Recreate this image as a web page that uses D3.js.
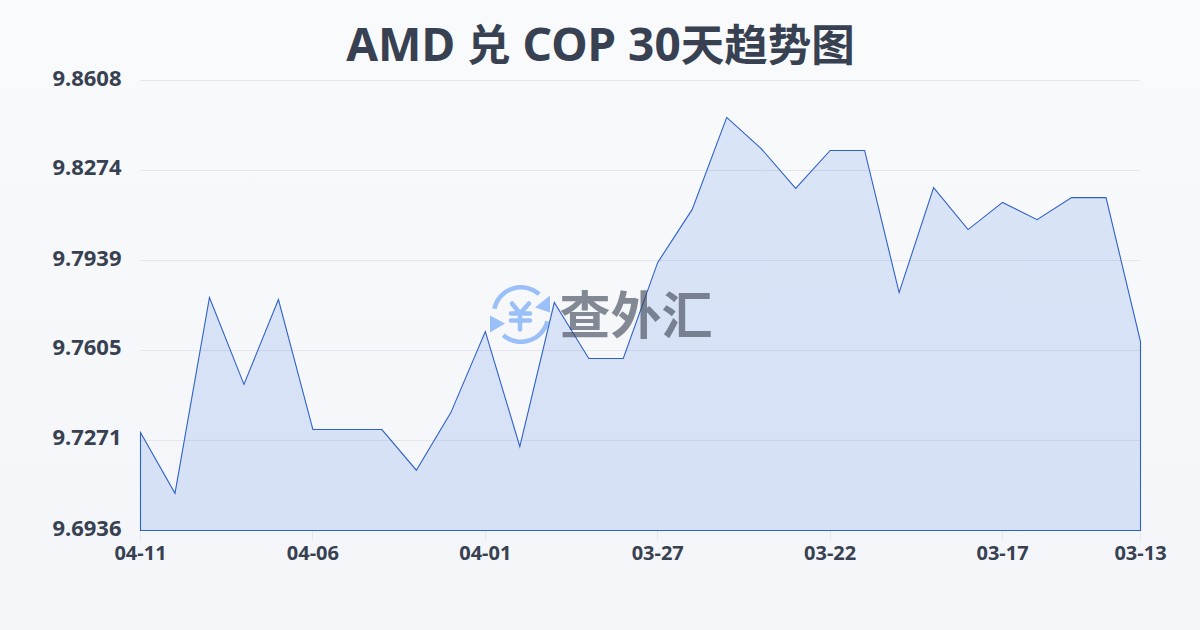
<!DOCTYPE html>
<html><head><meta charset="utf-8">
<script src="https://cdnjs.cloudflare.com/ajax/libs/d3/7.8.5/d3.min.js"></script>
<style>html,body{margin:0;padding:0;background:#f6f7fa}svg{display:block}text{font-family:"Noto Sans","Noto Sans CJK SC",sans-serif}</style>
</head><body><div id="c"></div>
<script>
const titleParts = [["AMD ",46],["兑",43.5],[" COP 30",46],["天趋势图",43.5]];
const dates = ["04-11","04-10","04-09","04-08","04-07","04-06","04-05","04-04","04-03","04-02","04-01","03-31","03-30","03-29","03-28","03-27","03-26","03-25","03-24","03-23","03-22","03-21","03-20","03-19","03-18","03-17","03-16","03-15","03-14","03-13"];
const rates = [9.7300,9.7074,9.7802,9.7479,9.7794,9.7311,9.7311,9.7311,9.7160,9.7374,9.7675,9.7248,9.7783,9.7575,9.7575,9.7932,9.8129,9.8471,9.8355,9.8207,9.8348,9.8348,9.7820,9.8210,9.8054,9.8155,9.8091,9.8173,9.8173,9.7638];
const yTicks = [9.6936,9.7271,9.7605,9.7939,9.8274,9.8608];
const xLabels = ["04-11","04-06","04-01","03-27","03-22","03-17","03-13"];
const W=1200,H=630,ink="#374151";
const svg=d3.select("#c").append("svg").attr("width",W).attr("height",H);
const defs=svg.append("defs");
const bg=defs.append("linearGradient").attr("id","bg").attr("x1",0).attr("y1",0).attr("x2",0).attr("y2",1);
bg.append("stop").attr("offset",0).attr("stop-color","#f9fafc");
bg.append("stop").attr("offset",1).attr("stop-color","#f3f5f8");
svg.append("rect").attr("width",W).attr("height",H).attr("fill","url(#bg)");
const x=d3.scalePoint().domain(dates).range([140.5,1140.5]);
const y=d3.scaleLinear().domain([9.6936,9.8608]).range([530.5,80.5]);
svg.append("g").selectAll("line").data(yTicks.slice(1)).join("line")
 .attr("x1",140).attr("x2",1140).attr("y1",d=>Math.round(y(d)-.5)+.5).attr("y2",d=>Math.round(y(d)-.5)+.5)
 .attr("stroke","#e3e6ec").attr("stroke-width",1);
svg.append("g").selectAll("line").data(xLabels).join("line")
 .attr("x1",d=>Math.floor(x(d))+.5).attr("x2",d=>Math.floor(x(d))+.5).attr("y1",530).attr("y2",540)
 .attr("stroke","#e3e6ec");
const area=d3.area().x(d=>x(d.date)).y0(y(9.6936)).y1(d=>y(d.rate));
const pts=dates.map((date,i)=>({date,rate:rates[i]}));
svg.append("path").datum(pts).attr("d",area).attr("fill","rgba(40,100,225,0.145)").attr("stroke","#2f62c8").attr("stroke-width",1.1).attr("stroke-linejoin","miter");
const wmAll=svg.append("g").attr("opacity",0.6);
const wm=wmAll.append("g").attr("transform","translate(521,314.5)");
const blue="#5f9bf8";
const arc=d3.arc().innerRadius(25).outerRadius(29.5);
wm.append("path").attr("d",arc({startAngle:-1.36,endAngle:0.73})).attr("fill",blue);
wm.append("path").attr("d",arc({startAngle:1.82,endAngle:3.85})).attr("fill",blue);
const poly=d3.line();
wm.append("path").attr("d",poly([[29,-19],[29,-2],[14,-7]])+"Z").attr("fill",blue);
wm.append("path").attr("d",poly([[-31,1],[-31,18],[-16,9]])+"Z").attr("fill",blue);
wm.append("path").attr("d","M-9,-11L-1,-1L8,-11M-10,-1H9M-10,6H9M-1,-1V15").attr("fill","none").attr("stroke",blue).attr("stroke-width",4.5).attr("stroke-linecap","round").attr("stroke-linejoin","round");
wmAll.append("text").attr("x",636).attr("y",334).attr("text-anchor","middle").attr("font-size",51).attr("font-weight",700).attr("fill",ink).style("font-family","'Noto Sans CJK SC'").text("查外汇");
svg.append("g").selectAll("text").data(yTicks).join("text")
 .attr("x",121.5).attr("y",d=>y(d)+5).attr("text-anchor","end").attr("font-size",22).attr("font-weight",700).attr("fill",ink).text(d=>d.toFixed(4));
svg.append("g").selectAll("text").data(xLabels).join("text")
 .attr("x",d=>x(d)).attr("y",560).attr("text-anchor","middle").attr("font-size",20).attr("font-weight",700).attr("fill",ink).text(d=>d);
const t=svg.append("text").attr("x",600.5).attr("y",61).attr("text-anchor","middle").attr("font-weight",700).attr("fill",ink).attr("xml:space","preserve").style("white-space","pre");
t.selectAll("tspan").data(titleParts).join("tspan").attr("font-size",d=>d[1]).text(d=>d[0]);
</script></body></html>
